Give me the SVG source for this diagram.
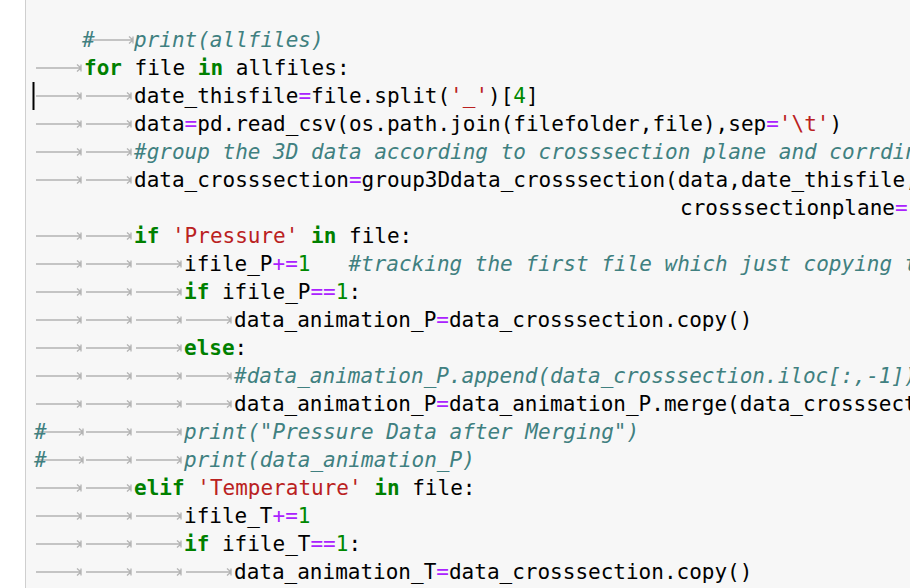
<svg xmlns="http://www.w3.org/2000/svg" xmlns:xlink="http://www.w3.org/1999/xlink" width="910" height="588" viewBox="0 0 910 588">
<style>
text{font-family:"DejaVu Sans Mono","Liberation Mono",monospace;font-size:21px;fill:#000;white-space:pre}
.k{fill:#008000;font-weight:bold}
.s{fill:#ba2121}
.o{fill:#aa22ff}
.n{fill:#008800}
.c{fill:#408080;font-style:italic}
</style>
<defs>
<g id="t"><path d="M2 0H47M43 -3.5L47 0L43 3.5M47 -3.5V3.5" fill="none" stroke="#b4b4b4" stroke-width="1.3"/></g>
</defs>
<rect width="910" height="588" fill="#fff"/>
<rect x="25" y="0" width="885" height="588" fill="#f7f7f7"/>
<line x1="25.5" y1="0" x2="25.5" y2="588" stroke="#cfcfcf"/>
<g id="tabs">
<use xlink:href="#t" x="86" y="40"/>
<use xlink:href="#t" x="34" y="68"/>
<use xlink:href="#t" x="34" y="96"/><use xlink:href="#t" x="84" y="96"/>
<use xlink:href="#t" x="34" y="124"/><use xlink:href="#t" x="84" y="124"/>
<use xlink:href="#t" x="34" y="152"/><use xlink:href="#t" x="84" y="152"/>
<use xlink:href="#t" x="34" y="180"/><use xlink:href="#t" x="84" y="180"/>
<use xlink:href="#t" x="34" y="236"/><use xlink:href="#t" x="84" y="236"/>
<use xlink:href="#t" x="34" y="264"/><use xlink:href="#t" x="84" y="264"/><use xlink:href="#t" x="134" y="264"/>
<use xlink:href="#t" x="34" y="292"/><use xlink:href="#t" x="84" y="292"/><use xlink:href="#t" x="134" y="292"/>
<use xlink:href="#t" x="34" y="320"/><use xlink:href="#t" x="84" y="320"/><use xlink:href="#t" x="134" y="320"/><use xlink:href="#t" x="184" y="320"/>
<use xlink:href="#t" x="34" y="348"/><use xlink:href="#t" x="84" y="348"/><use xlink:href="#t" x="134" y="348"/>
<use xlink:href="#t" x="34" y="376"/><use xlink:href="#t" x="84" y="376"/><use xlink:href="#t" x="134" y="376"/><use xlink:href="#t" x="184" y="376"/>
<use xlink:href="#t" x="34" y="404"/><use xlink:href="#t" x="84" y="404"/><use xlink:href="#t" x="134" y="404"/><use xlink:href="#t" x="184" y="404"/>
<use xlink:href="#t" x="36" y="432"/><use xlink:href="#t" x="84" y="432"/><use xlink:href="#t" x="134" y="432"/>
<use xlink:href="#t" x="36" y="460"/><use xlink:href="#t" x="84" y="460"/><use xlink:href="#t" x="134" y="460"/>
<use xlink:href="#t" x="34" y="488"/><use xlink:href="#t" x="84" y="488"/>
<use xlink:href="#t" x="34" y="516"/><use xlink:href="#t" x="84" y="516"/><use xlink:href="#t" x="134" y="516"/>
<use xlink:href="#t" x="34" y="544"/><use xlink:href="#t" x="84" y="544"/><use xlink:href="#t" x="134" y="544"/>
<use xlink:href="#t" x="34" y="572"/><use xlink:href="#t" x="84" y="572"/><use xlink:href="#t" x="134" y="572"/><use xlink:href="#t" x="184" y="572"/>
</g>
<line x1="33.5" y1="82" x2="33.5" y2="110" stroke="#000" stroke-width="2"/>
<g id="code">
<text x="82" y="47" class="c">#</text><text x="134" y="47" class="c">print(allfiles)</text>
<text x="84" y="75"><tspan class="k">for</tspan> file <tspan class="k">in</tspan> allfiles:</text>
<text x="134" y="103">date_thisfile<tspan class="o">=</tspan>file.split(<tspan class="s">'_'</tspan>)[<tspan class="n">4</tspan>]</text>
<text x="134" y="131">data<tspan class="o">=</tspan>pd.read_csv(os.path.join(filefolder,file),sep<tspan class="o">=</tspan><tspan class="s">'\t'</tspan>)</text>
<text x="134" y="159" class="c">#group the 3D data according to crosssection plane and corrdinates</text>
<text x="134" y="187">data_crosssection<tspan class="o">=</tspan>group3Ddata_crosssection(data,date_thisfile,</text>
<text x="680" y="215">crosssectionplane<tspan class="o">=</tspan></text>
<text x="134" y="243"><tspan class="k">if</tspan> <tspan class="s">'Pressure'</tspan> <tspan class="k">in</tspan> file:</text>
<text x="184" y="271">ifile_P<tspan class="o">+=</tspan><tspan class="n">1</tspan>   <tspan class="c">#tracking the first file which just copying the</tspan></text>
<text x="184" y="299"><tspan class="k">if</tspan> ifile_P<tspan class="o">==</tspan><tspan class="n">1</tspan>:</text>
<text x="234" y="327">data_animation_P<tspan class="o">=</tspan>data_crosssection.copy()</text>
<text x="184" y="355"><tspan class="k">else</tspan>:</text>
<text x="234" y="383" class="c">#data_animation_P.append(data_crosssection.iloc[:,-1])</text>
<text x="234" y="411">data_animation_P<tspan class="o">=</tspan>data_animation_P.merge(data_crosssection</text>
<text x="34" y="439" class="c">#</text><text x="184" y="439" class="c">print("Pressure Data after Merging")</text>
<text x="34" y="467" class="c">#</text><text x="184" y="467" class="c">print(data_animation_P)</text>
<text x="134" y="495"><tspan class="k">elif</tspan> <tspan class="s">'Temperature'</tspan> <tspan class="k">in</tspan> file:</text>
<text x="184" y="523">ifile_T<tspan class="o">+=</tspan><tspan class="n">1</tspan></text>
<text x="184" y="551"><tspan class="k">if</tspan> ifile_T<tspan class="o">==</tspan><tspan class="n">1</tspan>:</text>
<text x="234" y="579">data_animation_T<tspan class="o">=</tspan>data_crosssection.copy()</text>
</g>
</svg>
